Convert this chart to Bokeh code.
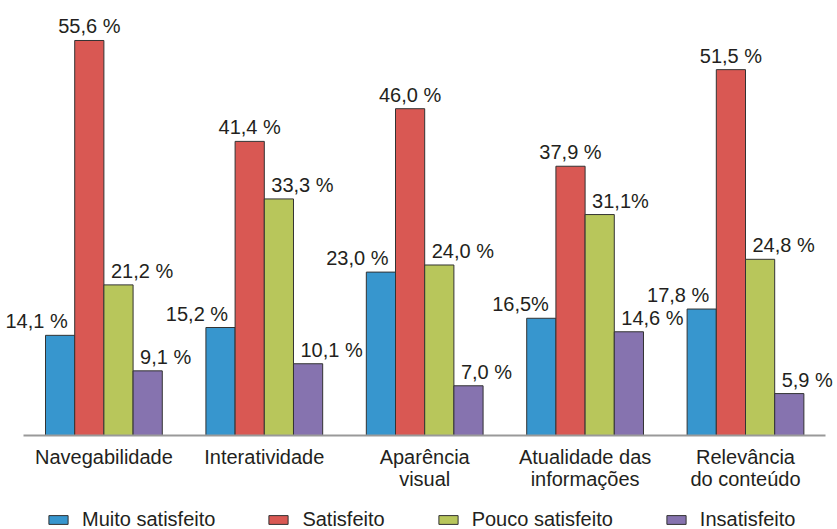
from bokeh.plotting import figure
from bokeh.layouts import column
from bokeh.models import Range1d, FixedTicker, Legend, LegendItem, ColumnDataSource
from bokeh.core.properties import value
from bokeh.embed import file_html
from bokeh.resources import INLINE

# Satisfaction survey results (%) per evaluated aspect
categories = ["Navegabilidade", "Interatividade", "Aparência\nvisual",
              "Atualidade das\ninformações", "Relevância\ndo conteúdo"]
series = ["Muito satisfeito", "Satisfeito", "Pouco satisfeito", "Insatisfeito"]
muito_satisfeito = [14.1, 15.2, 23.0, 16.5, 17.8]
satisfeito = [55.6, 41.4, 46.0, 37.9, 51.5]
pouco_satisfeito = [21.2, 33.3, 24.0, 31.1, 24.8]
insatisfeito = [9.1, 10.1, 7.0, 14.6, 5.9]
# labels written without the space before "%": (series index, category index)
compact_labels = {(0, 3), (2, 3)}

colors = ["#3796CE", "#D95853", "#B8C65B", "#8673AF"]
FONT = "Liberation Sans"
TEXT_COLOR = "#231F20"
BAR_LINE = "#333333"

values = [muito_satisfeito, satisfeito, pouco_satisfeito, insatisfeito]
bar_w = 0.182
offsets = [-1.5 * bar_w, -0.5 * bar_w, 0.5 * bar_w, 1.5 * bar_w]

# frame spans the full width so the outer value labels are not clipped
px_per_group = 160.4
x_start = -103.4 / px_per_group
x_end = x_start + 837 / px_per_group

p = figure(width=837, height=506, output_backend="svg", toolbar_location=None,
           x_range=Range1d(x_start, x_end), y_range=Range1d(0, 61.23),
           min_border_left=0, min_border_right=0, min_border_top=0,
           min_border_bottom=71, y_axis_location=None)
p.outline_line_color = None
p.grid.visible = False
p.background_fill_color = "white"
p.border_fill_color = "white"

xs = list(range(len(categories)))
for si, (name, vals, col, off) in enumerate(zip(series, values, colors, offsets)):
    src = ColumnDataSource(dict(
        x=[x + off for x in xs],
        top=vals,
        label=[("{:.1f}".format(v).replace(".", ",")
                + ("%" if (si, ci) in compact_labels else " %"))
               for ci, v in enumerate(vals)],
    ))
    p.vbar(x="x", top="top", bottom=0, width=bar_w, source=src,
           fill_color=col, line_color=BAR_LINE, line_width=1)

    # value labels: blue ones sit left of the bar, red centred, others to the right
    if si == 0:
        tx, align, dx = [x + off + bar_w / 2 for x in xs], "right", -7
    elif si == 1:
        tx, align, dx = [x + off for x in xs], "center", 0
    else:
        tx, align, dx = [x + off - bar_w / 2 for x in xs], "left", 7
    lsrc = ColumnDataSource(dict(x=tx, y=vals, text=src.data["label"]))
    p.text(x="x", y="y", text="text", source=lsrc, text_align=align,
           text_baseline="alphabetic", x_offset=dx, y_offset=-14,
           text_font=value(FONT), text_font_size="20px", text_color=TEXT_COLOR)

ax = p.xaxis[0]
ax.bounds = (-0.5, 4.5)
ax.ticker = FixedTicker(ticks=xs)
ax.major_label_overrides = {i: c for i, c in enumerate(categories)}
ax.major_label_text_font = FONT
ax.major_label_text_font_size = "20px"
ax.major_label_text_color = TEXT_COLOR
ax.major_label_text_line_height = 1.0
ax.major_label_standoff = 4
ax.major_tick_line_color = None
ax.minor_tick_line_color = None
ax.axis_line_color = "#999999"
ax.axis_line_width = 2

# legend strip underneath the chart; its swatch renderers sit outside the view
lg = figure(width=837, height=23, output_backend="svg", toolbar_location=None,
            x_range=Range1d(0, 1), y_range=Range1d(0, 1),
            min_border=0, x_axis_location=None, y_axis_location=None)
lg.outline_line_color = None
lg.grid.visible = False
swatches = []
for name, col in zip(series, colors):
    swatches.append(lg.vbar(x=[-5], top=[-5], bottom=-6, width=0.1, fill_color=col,
                            line_color=BAR_LINE, line_width=1))
legend = Legend(
    items=[LegendItem(label=n, renderers=[r]) for n, r in zip(series, swatches)],
    orientation="horizontal", location=(46, -2),
    glyph_width=24, glyph_height=11, label_standoff=12, spacing=51,
    padding=0, margin=0, border_line_color=None, background_fill_alpha=0,
    label_text_font=FONT, label_text_font_size="20px", label_text_color=TEXT_COLOR,
)
lg.add_layout(legend, "center")

open("out.html", "w").write(file_html(column(p, lg, spacing=0), INLINE))
